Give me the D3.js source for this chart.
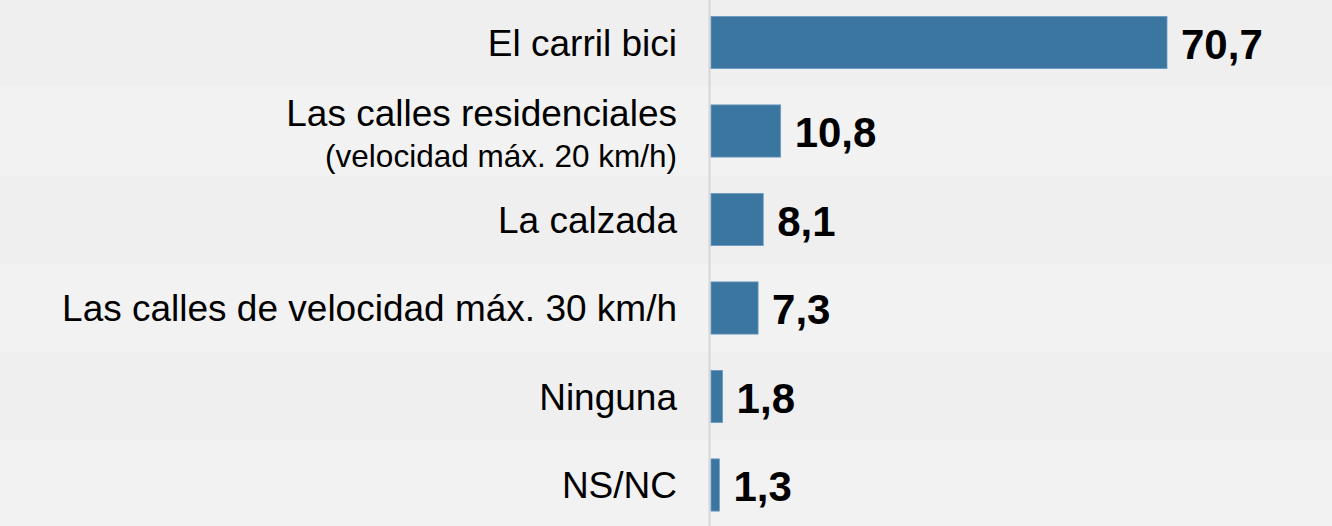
<!DOCTYPE html>
<html>
<head>
<meta charset="utf-8">
<script src="https://cdn.jsdelivr.net/npm/d3@7"></script>
<style>
  body { margin: 0; background: #f2f2f2; }
  svg { display: block; }
</style>
</head>
<body>
<div id="chart"></div>
<script>
// data
const categories = ["El carril bici", "Las calles residenciales", "La calzada",
  "Las calles de velocidad máx. 30 km/h", "Ninguna", "NS/NC"];
const subLabels = ["", "(velocidad máx. 20 km/h)", "", "", "", ""];
const values = [70.7, 10.8, 8.1, 7.3, 1.8, 1.3];

const width = 1332, height = 526;
const rows = categories.map((c, i) => ({name: c, sub: subLabels[i], value: values[i]}));

const svg = d3.select("#chart").append("svg")
  .attr("width", width)
  .attr("height", height);

// row bands (background stripes)
const yRow = d3.scaleBand().domain(categories).range([-1.75, 529.25]).padding(0);
// bars
const y = d3.scaleBand().domain(categories).range([-1.75, 529.25])
  .paddingInner(0.41).paddingOuter(0.205);
const x = d3.scaleLinear().domain([0, 70.7]).range([711, 1167]);

const fmt = d3.formatLocale({decimal: ",", thousands: ".", grouping: [3], currency: ["", ""]}).format(".1f");

svg.selectAll(".stripe")
  .data(rows)
  .join("rect")
    .attr("class", "stripe")
    .attr("x", 0)
    .attr("width", width)
    .attr("y", d => yRow(d.name))
    .attr("height", yRow.bandwidth())
    .attr("fill", (d, i) => i % 2 === 0 ? "#efefef" : "#f2f2f2");

// axis line
svg.append("line")
  .attr("x1", 709.5).attr("x2", 709.5)
  .attr("y1", 0).attr("y2", height)
  .attr("stroke", "#d6d6d6")
  .attr("stroke-width", 2);

svg.selectAll(".bar")
  .data(rows)
  .join("rect")
    .attr("class", "bar")
    .attr("x", x(0))
    .attr("y", d => y(d.name))
    .attr("width", d => x(d.value) - x(0))
    .attr("height", y.bandwidth())
    .attr("fill", "#3a76a0")
    .attr("stroke", "#6f9cc0")
    .attr("stroke-width", 0.8);

// value labels
svg.selectAll(".val")
  .data(rows)
  .join("text")
    .attr("class", "val")
    .attr("x", d => x(d.value) + 14)
    .attr("y", d => y(d.name) + y.bandwidth() / 2 + 16)
    .attr("font-family", "'Liberation Sans', Arial, sans-serif")
    .attr("font-weight", "bold")
    .attr("font-size", 42)
    .attr("fill", "#000")
    .text(d => fmt(d.value));

// category labels
const lab = svg.selectAll(".lab")
  .data(rows)
  .join("text")
    .attr("class", "lab")
    .attr("text-anchor", "end")
    .attr("font-family", "'Liberation Sans', Arial, sans-serif")
    .attr("fill", "#000");

lab.append("tspan")
  .attr("x", 677)
  .attr("y", d => {
    const c = y(d.name) + y.bandwidth() / 2;
    return d.sub ? c - 5 : c + 13;
  })
  .attr("font-size", 37)
  .text(d => d.name);

lab.filter(d => d.sub).append("tspan")
  .attr("x", 677)
  .attr("y", d => y(d.name) + y.bandwidth() / 2 + 36)
  .attr("font-size", 31.5)
  .text(d => d.sub);
</script>
</body>
</html>
